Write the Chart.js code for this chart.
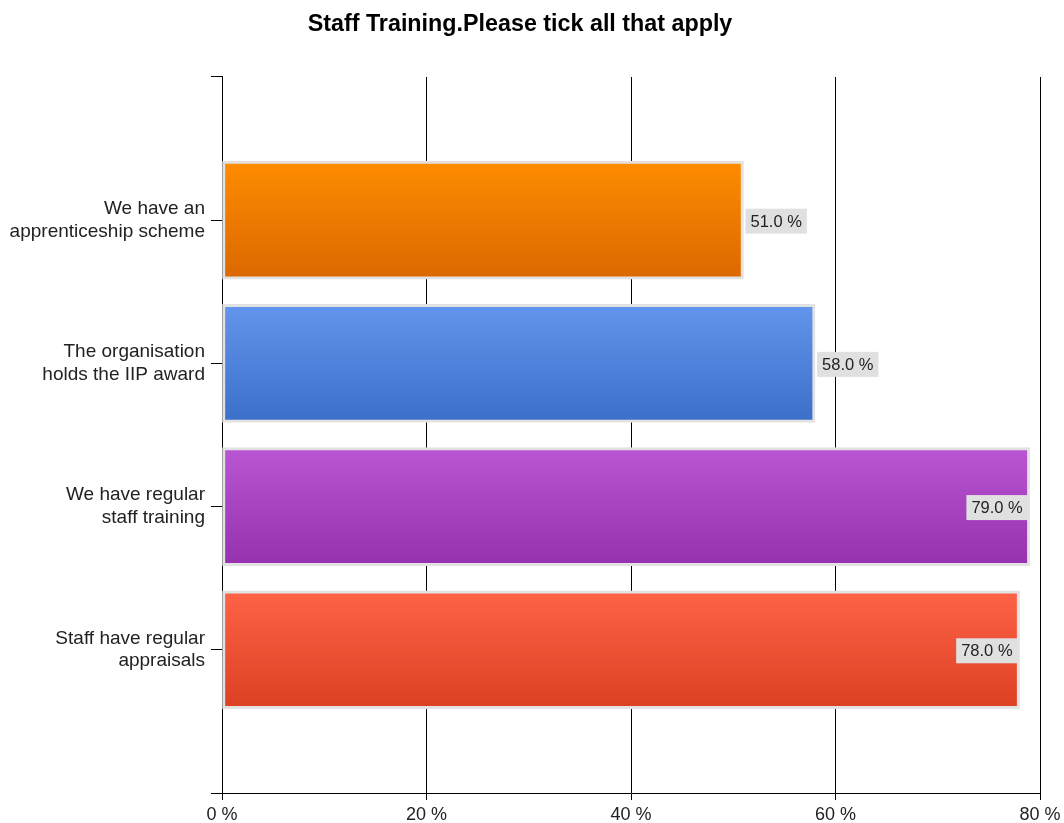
<!DOCTYPE html>
<html>
<head>
<meta charset="utf-8">
<script src="https://cdn.jsdelivr.net/npm/chart.js@4/dist/chart.umd.min.js"></script>
<style>
html,body{margin:0;padding:0;background:#fff;}
#wrap{width:1064px;height:823px;}
</style>
</head>
<body>
<div id="wrap"><canvas id="c" width="1064" height="823"></canvas></div>
<script>
const titleText = 'Staff Training.Please tick all that apply';
const categories = [
  ['We have an', 'apprenticeship scheme'],
  ['The organisation', 'holds the IIP award'],
  ['We have regular', 'staff training'],
  ['Staff have regular', 'appraisals']
];
const values = [51.0, 58.0, 79.0, 78.0];
const xTicks = [0, 20, 40, 60, 80];
const topColors = ['#FF8C00', '#6495ED', '#BA55D3', '#FF6347'];
const bottomColors = ['#DA6800', '#3B6FC8', '#9530AE', '#DC4023'];

const FONT = '"Liberation Sans", Arial, sans-serif';
const BAR_H = 118;

// padded category axis: empty slot at each end
const yLabels = [''].concat(categories, ['']);
const yData = [null].concat(values, [null]);

function gradientFor(ctx) {
  const chart = ctx.chart;
  const i = ctx.dataIndex;
  if (i < 1 || i > values.length) return '#999';
  const k = i - 1;
  const ys = chart.scales && chart.scales.y;
  if (!chart.chartArea || !ys) return topColors[k];
  const yc = ys.getPixelForValue(i);
  const g = chart.ctx.createLinearGradient(0, yc - BAR_H / 2, 0, yc + BAR_H / 2);
  g.addColorStop(0, topColors[k]);
  g.addColorStop(1, bottomColors[k]);
  return g;
}

const labelPlugin = {
  id: 'valueLabels',
  afterDatasetsDraw(chart) {
    const ctx = chart.ctx;
    const meta = chart.getDatasetMeta(0);
    const area = chart.chartArea;
    ctx.save();
    ctx.font = '16.5px ' + FONT;
    ctx.textBaseline = 'middle';
    meta.data.forEach((bar, i) => {
      const v = yData[i];
      if (v === null || v === undefined) return;
      const txt = v.toFixed(1) + ' %';
      const tw = ctx.measureText(txt).width;
      const w = tw + 10, h = 25;
      let x0 = bar.x + 2;
      if (x0 + w > area.right) x0 = bar.x - w - 2;
      const y0 = bar.y - h / 2 + 1;
      ctx.fillStyle = '#E0E0E0';
      ctx.fillRect(x0, y0, w, h);
      ctx.fillStyle = '#222';
      ctx.textAlign = 'left';
      ctx.fillText(txt, x0 + 5, y0 + h / 2 + 1);
    });
    ctx.restore();
  }
};

new Chart(document.getElementById('c'), {
  type: 'bar',
  data: {
    labels: yLabels,
    datasets: [{
      data: yData,
      backgroundColor: gradientFor,
      borderColor: '#E2E2E2',
      borderWidth: 3,
      borderSkipped: false,
      barThickness: BAR_H
    }]
  },
  options: {
    indexAxis: 'y',
    responsive: false,
    animation: false,
    devicePixelRatio: 1,
    layout: { padding: { top: 11, right: 24, left: 0, bottom: 0 } },
    plugins: {
      legend: { display: false },
      tooltip: { enabled: false },
      title: {
        display: true,
        text: titleText,
        color: '#000',
        font: { family: FONT, size: 23.3, weight: 'bold', lineHeight: 1.2 },
        padding: { top: 0, bottom: 38 }
      }
    },
    scales: {
      x: {
        type: 'linear',
        min: 0,
        max: 80,
        afterBuildTicks(scale) { scale.ticks = xTicks.map(v => ({ value: v })); },
        ticks: {
          callback: v => v + ' %',
          color: '#222',
          font: { family: FONT, size: 18, lineHeight: 1.0 },
          padding: 6,
          maxRotation: 0
        },
        grid: { color: '#000', lineWidth: 1, tickLength: 7, drawOnChartArea: true },
        border: { color: '#000', width: 1 },
        afterFit(scale) { scale.height = 30; scale.paddingRight = 0; scale.paddingLeft = 0; }
      },
      y: {
        type: 'category',
        offset: false,
        ticks: {
          color: '#222',
          font: { family: FONT, size: 19, lineHeight: 1.2 },
          padding: 6,
          autoSkip: false
        },
        grid: { display: true, offset: false, drawOnChartArea: false, color: '#000', tickLength: 11 },
        border: { color: '#000', width: 1 },
        afterFit(scale) { scale.width = 222; }
      }
    }
  },
  plugins: [labelPlugin]
});
</script>
</body>
</html>
